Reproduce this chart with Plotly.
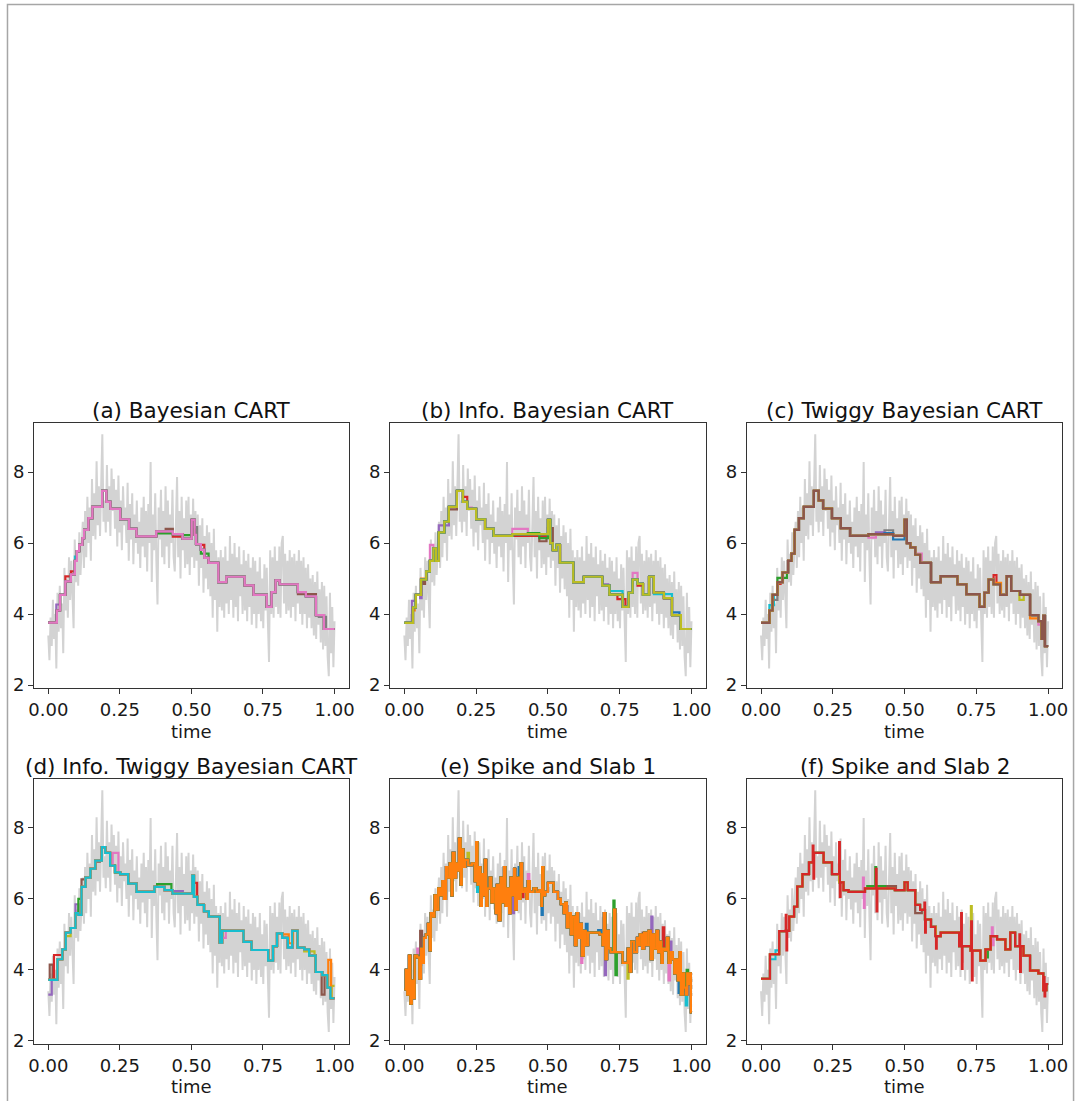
import numpy as np
import plotly.graph_objects as go

W, H = 1084, 1101

# ---------------- data ----------------
# noisy observations (light gray), same in every panel
signal = [
    3.4, 2.7, 3.9, 3.1, 4.4, 3.3, 4.0, 2.47, 4.6, 3.5,
    4.8, 3.6, 4.3, 2.9, 5.3, 4.1, 5.0, 3.9, 5.6, 4.4,
    5.5, 4.6, 3.6, 6.1, 4.9, 5.7, 4.8, 6.3, 5.1, 5.9,
    6.6, 5.3, 6.9, 5.6, 7.3, 6.0, 7.0, 5.5, 7.8, 6.2,
    7.4, 6.1, 8.3, 6.5, 7.6, 6.2, 7.9, 9.06, 6.6, 7.2,
    6.3, 8.2, 6.6, 7.6, 6.2, 8.1, 6.9, 7.8, 6.4, 7.5,
    5.9, 7.9, 6.3, 7.2, 5.8, 7.6, 6.5, 7.0, 6.0, 7.7,
    5.5, 7.1, 6.1, 7.4, 5.4, 6.8, 6.0, 7.2, 5.7, 6.6,
    5.3, 7.0, 5.9, 7.3, 5.6, 6.9, 5.2, 7.1, 6.0, 8.28,
    4.9, 6.8, 5.8, 7.4, 5.5, 4.27, 7.0, 6.1, 7.5, 5.6,
    6.9, 5.4, 7.6, 5.9, 7.2, 5.3, 6.8, 6.0, 7.5, 5.6,
    5.2, 7.0, 7.86, 5.6, 6.9, 5.0, 7.3, 5.8, 6.7, 5.3,
    7.2, 5.4, 7.3, 5.1, 6.8, 5.6, 7.25, 5.3, 6.9, 5.5,
    6.8, 4.8, 6.5, 5.3, 6.7, 4.6, 6.2, 5.0, 6.5, 4.7,
    6.3, 4.5, 6.0, 3.9, 6.4, 4.4, 5.8, 3.5, 5.6, 4.2,
    5.8, 4.1, 5.6, 3.9, 5.9, 4.3, 5.5, 4.0, 6.2, 4.4,
    5.7, 3.9, 6.0, 4.2, 5.6, 3.8, 5.9, 4.5, 5.4, 4.0,
    5.8, 4.1, 5.5, 3.8, 5.7, 4.2, 5.3, 3.7, 5.6, 4.0,
    5.5, 3.6, 5.2, 4.0, 5.6, 3.8, 5.0, 3.6, 5.4, 4.1,
    5.3, 3.8, 2.65, 5.8, 4.0, 5.6, 3.9, 5.9, 4.2, 5.5,
    4.0, 5.9, 3.9, 6.0, 6.2, 4.3, 5.7, 4.0, 5.5, 4.1,
    5.8, 3.9, 5.6, 4.2, 5.7, 3.8, 5.5, 4.3, 5.8, 4.0,
    5.5, 3.7, 5.6, 4.0, 5.3, 3.6, 5.4, 3.9, 5.0, 3.6,
    5.1, 3.4, 4.9, 3.3, 5.2, 3.7, 4.7, 3.2, 4.9, 3.0,
    4.8, 3.1, 4.5, 2.8, 2.25, 4.6, 2.9, 4.2, 2.5, 3.8,
]
time = np.linspace(0.0, 1.0, len(signal))

titles = ["(a) Bayesian CART", "(b) Info. Bayesian CART", "(c) Twiggy Bayesian CART",
          "(d) Info. Twiggy Bayesian CART", "(e) Spike and Slab 1", "(f) Spike and Slab 2"]
x_ticks = [0, 0.25, 0.5, 0.75, 1.0]
x_tick_labels = ["0.00", "0.25", "0.50", "0.75", "1.00"]
y_ticks = [2, 4, 6, 8]
y_tick_labels = ["2", "4", "6", "8"]
x_label = "time"

# step fits: (segment start, level); every fit ends at t = 1
steps_a = [(0, 3.76), (0.030, 4.1), (0.041, 4.54), (0.0595, 4.92), (0.079, 5.12), (0.093, 5.5),
           (0.100, 5.77), (0.108, 5.95), (0.119, 6.14), (0.125, 6.37), (0.140, 6.7), (0.154, 7.02),
           (0.188, 7.47), (0.203, 7.16), (0.217, 6.96), (0.251, 6.67), (0.282, 6.4), (0.308, 6.19),
           (0.377, 6.33), (0.435, 6.25), (0.469, 6.12), (0.501, 6.65), (0.511, 6.23), (0.516, 5.97),
           (0.533, 5.81), (0.545, 5.58), (0.560, 5.44), (0.594, 4.9), (0.622, 5.05), (0.686, 4.81),
           (0.717, 4.54), (0.763, 4.2), (0.780, 4.62), (0.794, 4.95), (0.808, 4.84), (0.872, 4.62),
           (0.900, 4.5), (0.935, 3.97), (0.963, 3.58)]
steps_b = [(0, 3.75), (0.030, 4.19), (0.040, 4.54), (0.058, 4.97), (0.076, 5.2), (0.089, 5.5),
           (0.101, 5.85), (0.110, 5.5), (0.120, 6.3), (0.139, 6.6), (0.155, 7.02), (0.183, 7.47),
           (0.204, 7.16), (0.219, 6.96), (0.25, 6.67), (0.281, 6.4), (0.311, 6.2), (0.376, 6.25),
           (0.5, 6.65), (0.508, 6.0), (0.517, 5.8), (0.53, 5.95), (0.542, 5.45), (0.588, 4.9),
           (0.625, 5.05), (0.689, 4.8), (0.714, 4.55), (0.76, 4.2), (0.781, 4.6), (0.795, 4.97),
           (0.812, 4.85), (0.831, 4.55), (0.852, 5.05), (0.869, 4.6), (0.904, 4.45), (0.932, 3.97),
           (0.963, 3.58)]
steps_c = [(0, 3.75), (0.029, 4.1), (0.040, 4.54), (0.057, 4.9), (0.075, 5.17), (0.094, 5.5),
           (0.106, 5.7), (0.117, 6.37), (0.132, 6.7), (0.149, 7.02), (0.184, 7.47), (0.201, 7.2),
           (0.216, 6.97), (0.247, 6.7), (0.278, 6.42), (0.310, 6.2), (0.374, 6.25), (0.46, 6.2),
           (0.5, 6.65), (0.508, 6.0), (0.52, 5.88), (0.537, 5.67), (0.554, 5.44), (0.592, 4.9),
           (0.626, 5.07), (0.684, 4.84), (0.715, 4.56), (0.761, 4.2), (0.778, 4.6), (0.793, 4.97),
           (0.81, 4.84), (0.833, 4.54), (0.856, 5.07), (0.871, 4.65), (0.902, 4.54), (0.937, 3.97),
           (0.966, 3.8), (0.977, 3.3), (0.983, 3.95), (0.989, 3.1)]
steps_d = [(0, 3.72), (0.032, 4.3), (0.049, 4.58), (0.061, 5.05), (0.078, 5.18), (0.095, 5.6),
           (0.105, 5.55), (0.116, 6.34), (0.13, 6.6), (0.147, 6.85), (0.164, 7.08), (0.187, 7.46),
           (0.199, 7.3), (0.216, 6.94), (0.233, 6.75), (0.251, 6.7), (0.279, 6.43), (0.308, 6.2),
           (0.371, 6.34), (0.406, 6.25), (0.434, 6.15), (0.503, 6.66), (0.509, 6.06), (0.521, 5.83),
           (0.544, 5.65), (0.561, 5.5), (0.599, 4.77), (0.607, 5.1), (0.682, 4.79), (0.71, 4.56),
           (0.768, 4.26), (0.785, 4.67), (0.799, 5.03), (0.817, 4.9), (0.837, 4.63), (0.852, 5.1),
           (0.871, 4.63), (0.894, 4.58), (0.911, 4.4), (0.934, 3.94), (0.957, 3.85), (0.975, 3.5),
           (0.986, 3.2)]
steps_e = [(0.000, 3.45), (0.005, 4.0), (0.010, 3.3), (0.016, 4.4), (0.021, 3.05), (0.026, 3.7),
           (0.031, 3.2), (0.036, 4.4), (0.045, 4.35), (0.052, 3.75), (0.058, 4.6), (0.064, 4.2),
           (0.068, 4.9), (0.075, 5.0), (0.082, 5.3), (0.088, 4.55), (0.092, 5.6), (0.100, 5.5),
           (0.105, 6.1), (0.110, 5.7), (0.118, 6.3), (0.125, 6.1), (0.132, 6.5), (0.138, 6.0),
           (0.145, 6.9), (0.150, 6.6), (0.158, 7.0), (0.164, 6.1), (0.168, 7.3), (0.175, 6.6),
           (0.180, 7.0), (0.185, 6.8), (0.190, 7.7), (0.196, 6.4), (0.200, 7.4), (0.206, 6.9),
           (0.212, 7.1), (0.222, 6.95), (0.235, 7.0), (0.245, 6.5), (0.250, 7.6), (0.255, 6.4),
           (0.260, 6.9), (0.265, 5.8), (0.270, 6.7), (0.276, 6.1), (0.280, 7.1), (0.285, 5.8),
           (0.290, 6.3), (0.297, 6.6), (0.303, 5.9), (0.310, 6.3), (0.318, 5.6), (0.322, 6.4),
           (0.328, 5.4), (0.335, 6.6), (0.340, 5.9), (0.347, 6.9), (0.352, 5.8), (0.358, 6.3),
           (0.365, 5.6), (0.370, 6.6), (0.376, 6.1), (0.382, 6.85), (0.386, 5.7), (0.392, 6.6),
           (0.398, 6.0), (0.405, 7.0), (0.410, 6.2), (0.418, 6.3), (0.425, 6.0), (0.430, 6.5),
           (0.437, 6.2), (0.450, 6.3), (0.460, 6.2), (0.470, 6.25), (0.477, 5.8), (0.480, 6.9),
           (0.485, 6.1), (0.490, 6.2), (0.500, 6.45), (0.520, 6.2), (0.535, 6.0), (0.545, 5.85),
           (0.555, 5.6), (0.560, 5.9), (0.566, 5.2), (0.572, 5.6), (0.580, 5.0), (0.586, 5.5),
           (0.594, 4.7), (0.600, 5.6), (0.605, 4.9), (0.612, 5.3), (0.618, 4.4), (0.625, 5.1),
           (0.632, 4.7), (0.640, 5.05), (0.680, 5.0), (0.690, 4.7), (0.695, 5.6), (0.700, 4.3),
           (0.706, 5.1), (0.712, 4.6), (0.718, 4.5), (0.730, 5.7), (0.735, 4.5), (0.760, 4.2),
           (0.778, 4.6), (0.784, 3.95), (0.790, 4.8), (0.800, 4.5), (0.810, 4.9), (0.815, 4.7),
           (0.820, 5.0), (0.828, 4.6), (0.835, 5.05), (0.842, 4.7), (0.850, 5.1), (0.858, 4.3),
           (0.865, 5.0), (0.870, 4.6), (0.878, 5.1), (0.884, 4.5), (0.890, 4.8), (0.895, 4.2),
           (0.900, 4.6), (0.908, 4.55), (0.914, 4.9), (0.920, 4.2), (0.928, 4.5), (0.935, 4.3),
           (0.940, 3.9), (0.946, 4.3), (0.952, 3.7), (0.958, 4.5), (0.963, 3.3), (0.970, 3.9),
           (0.975, 3.5), (0.980, 3.3), (0.985, 3.9), (0.990, 3.6), (0.994, 3.9), (0.998, 2.8)]
steps_f = [(0, 3.75), (0.031, 4.44), (0.063, 5.09), (0.086, 5.1), (0.098, 5.5), (0.115, 5.78),
           (0.126, 6.35), (0.144, 6.7), (0.167, 7.03), (0.184, 7.3), (0.218, 7.03), (0.247, 6.7),
           (0.272, 6.47), (0.287, 6.25), (0.305, 6.2), (0.362, 6.3), (0.466, 6.25), (0.5, 6.47),
           (0.511, 6.25), (0.537, 5.83), (0.554, 5.69), (0.571, 5.42), (0.592, 5.21), (0.609, 4.95),
           (0.626, 5.05), (0.69, 4.67), (0.73, 4.54), (0.764, 4.26), (0.782, 4.58), (0.8, 4.95),
           (0.822, 4.86), (0.851, 4.58), (0.868, 5.05), (0.885, 4.67), (0.914, 4.4), (0.937, 3.98),
           (0.966, 3.9), (0.983, 3.43), (0.994, 3.6)]
# single-sample spikes of the last Spike-and-Slab 2 draw: (time, high, low)
spikes_f = [(0.086, 5.55, 4.55), (0.18, 7.5, 6.57), (0.272, 7.6, 6.06), (0.4, 6.85, 5.65),
            (0.569, 5.9, 5.05), (0.607, 4.95, 4.6), (0.697, 5.6, 4.03), (0.732, 5.37, 3.7),
            (0.9, 5.0, 3.94), (0.985, 3.8, 3.25)]

# other posterior draws differ from the last draw on a few segments: (colour, start, end, level)
alt_a = [("#9467bd", 0.028, 0.041, 4.27), ("#d62728", 0.0595, 0.079, 5.06), ("#d62728", 0.079, 0.093, 5.2),
         ("#17becf", 0.093, 0.100, 5.62), ("#2ca02c", 0.377, 0.435, 6.27), ("#8c564b", 0.41, 0.435, 6.4),
         ("#d62728", 0.435, 0.469, 6.18), ("#2ca02c", 0.469, 0.501, 6.22), ("#7f7f7f", 0.511, 0.52, 6.45),
         ("#2ca02c", 0.533, 0.56, 5.7), ("#d62728", 0.533, 0.545, 5.95), ("#8c564b", 0.872, 0.935, 4.56),
         ("#7f7f7f", 0.945, 0.97, 3.92)]
alt_b = [("#9467bd", 0.026, 0.04, 4.37), ("#9467bd", 0.055, 0.06, 4.45), ("#9467bd", 0.12, 0.155, 6.5),
         ("#9467bd", 0.689, 0.71, 4.84), ("#ff7f0e", 0.03, 0.036, 4.1), ("#ff7f0e", 0.058, 0.078, 5.0),
         ("#8c564b", 0.066, 0.072, 4.85), ("#8c564b", 0.155, 0.183, 6.95), ("#8c564b", 0.47, 0.495, 6.05),
         ("#8c564b", 0.5, 0.517, 6.42), ("#e377c2", 0.089, 0.101, 5.95), ("#e377c2", 0.219, 0.235, 7.0),
         ("#e377c2", 0.376, 0.43, 6.4), ("#e377c2", 0.795, 0.812, 5.16), ("#d62728", 0.204, 0.219, 7.3),
         ("#d62728", 0.376, 0.5, 6.2), ("#d62728", 0.742, 0.77, 4.42), ("#d62728", 0.812, 0.83, 4.8),
         ("#2ca02c", 0.43, 0.47, 6.28), ("#2ca02c", 0.47, 0.5, 6.14), ("#17becf", 0.714, 0.76, 4.65),
         ("#17becf", 0.869, 0.932, 4.56), ("#1f77b4", 0.932, 0.958, 4.05)]
alt_c = [("#17becf", 0.029, 0.045, 4.25), ("#7f7f7f", 0.04, 0.057, 4.4), ("#7f7f7f", 0.43, 0.46, 6.36),
         ("#2ca02c", 0.057, 0.09, 5.02), ("#d62728", 0.057, 0.068, 4.85), ("#d62728", 0.81, 0.82, 5.1),
         ("#e377c2", 0.374, 0.40, 6.15), ("#e377c2", 0.537, 0.56, 5.7), ("#e377c2", 0.966, 0.976, 3.7),
         ("#9467bd", 0.40, 0.43, 6.3), ("#1f77b4", 0.43, 0.46, 6.28), ("#1f77b4", 0.46, 0.5, 6.1),
         ("#ff7f0e", 0.82, 0.836, 4.88), ("#ff7f0e", 0.937, 0.966, 3.88), ("#bcbd22", 0.9, 0.915, 4.4)]
alt_d = [("#9467bd", 0.0, 0.012, 3.3), ("#9467bd", 0.095, 0.105, 5.85), ("#9467bd", 0.434, 0.47, 6.22),
         ("#8c564b", 0.005, 0.015, 4.15), ("#8c564b", 0.116, 0.13, 6.55), ("#8c564b", 0.164, 0.18, 7.05),
         ("#8c564b", 0.955, 0.965, 3.3), ("#d62728", 0.02, 0.05, 4.42), ("#d62728", 0.503, 0.52, 6.45),
         ("#bcbd22", 0.061, 0.078, 4.95), ("#bcbd22", 0.894, 0.93, 4.52), ("#bcbd22", 0.99, 1.0, 3.55),
         ("#2ca02c", 0.105, 0.116, 6.0), ("#2ca02c", 0.38, 0.43, 6.42), ("#e377c2", 0.225, 0.245, 7.3),
         ("#e377c2", 0.607, 0.62, 4.9), ("#ff7f0e", 0.817, 0.84, 5.0), ("#ff7f0e", 0.84, 0.855, 4.75),
         ("#ff7f0e", 0.978, 0.988, 4.28)]
alt_e = [("#e377c2", 0.045, 0.05, 4.6), ("#e377c2", 0.325, 0.33, 5.55), ("#e377c2", 0.43, 0.435, 6.7),
         ("#e377c2", 0.616, 0.62, 4.2), ("#e377c2", 0.92, 0.925, 3.7), ("#8c564b", 0.055, 0.062, 5.1),
         ("#8c564b", 0.563, 0.568, 5.8), ("#8c564b", 0.83, 0.836, 5.05), ("#8c564b", 0.972, 0.978, 3.4),
         ("#bcbd22", 0.22, 0.225, 7.3), ("#bcbd22", 0.777, 0.781, 3.75), ("#17becf", 0.253, 0.257, 6.2),
         ("#17becf", 0.98, 0.985, 3.0), ("#9467bd", 0.378, 0.382, 5.6), ("#9467bd", 0.698, 0.702, 3.85),
         ("#9467bd", 0.86, 0.864, 5.5), ("#9467bd", 0.925, 0.93, 4.8), ("#d62728", 0.41, 0.415, 6.05),
         ("#d62728", 0.598, 0.603, 5.4), ("#d62728", 0.9, 0.905, 5.2), ("#d62728", 0.955, 0.96, 4.3),
         ("#1f77b4", 0.398, 0.402, 6.9), ("#1f77b4", 0.478, 0.482, 5.55), ("#1f77b4", 0.632, 0.638, 5.3),
         ("#1f77b4", 0.675, 0.685, 5.12), ("#1f77b4", 0.955, 0.962, 3.35), ("#2ca02c", 0.728, 0.732, 5.95),
         ("#2ca02c", 0.735, 0.74, 3.85), ("#2ca02c", 0.983, 0.988, 4.0)]
alt_f = [("#17becf", 0.031, 0.05, 4.3), ("#17becf", 0.05, 0.063, 4.55), ("#e377c2", 0.355, 0.358, 6.6),
         ("#e377c2", 0.358, 0.361, 5.75), ("#e377c2", 0.804, 0.807, 5.2), ("#e377c2", 0.807, 0.81, 4.7),
         ("#2ca02c", 0.37, 0.398, 6.36), ("#2ca02c", 0.398, 0.401, 6.9), ("#2ca02c", 0.401, 0.44, 6.36),
         ("#2ca02c", 0.785, 0.79, 4.35), ("#8c564b", 0.44, 0.47, 6.36), ("#8c564b", 0.537, 0.56, 5.6),
         ("#bcbd22", 0.731, 0.734, 5.8)]

top_colors = ["#e377c2", "#bcbd22", "#8c564b", "#17becf", "#ff7f0e", "#d62728"]
panel_steps = [steps_a, steps_b, steps_c, steps_d, steps_e, steps_f]
panel_alts = [alt_a, alt_b, alt_c, alt_d, alt_e, alt_f]


# ---------------- helpers ----------------
def apply_segment(steps, t0, t1, v):
    def level_at(t):
        lv = steps[0][1]
        for s, l in steps:
            if s <= t:
                lv = l
        return lv
    lv1 = level_at(t1)
    out = [(s, l) for s, l in steps if s < t0]
    out.append((t0, v))
    if t1 < 1.0:
        out.append((t1, lv1))
    out += [(s, l) for s, l in steps if s > t1]
    return out


def step_xy(steps):
    xs = [s for s, _ in steps] + [1.0]
    ys = [l for _, l in steps] + [steps[-1][1]]
    return xs, ys


cols = [(28.3, 346.7), (388.3, 707.7), (749.0, 1068.3)]
rows = [(425.7, 692.7), (784.0, 1050.7)]

FONT = "DejaVu Sans"
fig = go.Figure()
annotations = []
layout = {}

for k in range(6):
    r, c = divmod(k, 3)
    suf = "" if k == 0 else str(k + 1)
    xa, ya = "x" + suf, "y" + suf

    fig.add_trace(go.Scatter(x=time, y=signal, mode="lines", xaxis=xa, yaxis=ya,
                             line=dict(color="#d3d3d3", width=2), hoverinfo="skip"))

    base = panel_steps[k]
    top = base
    if k == 5:
        for t, hi, lo in spikes_f:
            top = apply_segment(top, t, t + 0.0025, hi)
            top = apply_segment(top, t + 0.0025, t + 0.005, lo)

    colours = []
    for col, *_ in panel_alts[k]:
        if col not in colours:
            colours.append(col)
    for col in colours:
        var = base
        for cc, t0, t1, v in panel_alts[k]:
            if cc == col:
                var = apply_segment(var, t0, t1, v)
        xs, ys = step_xy(var)
        fig.add_trace(go.Scatter(x=xs, y=ys, mode="lines", line_shape="hv", xaxis=xa, yaxis=ya,
                                 line=dict(color=col, width=2.2)))
    xs, ys = step_xy(top)
    fig.add_trace(go.Scatter(x=xs, y=ys, mode="lines", line_shape="hv", xaxis=xa, yaxis=ya,
                             line=dict(color=top_colors[k], width=2.2)))

    x0, x1 = cols[c]
    y0, y1 = rows[r]
    axis_common = dict(showline=True, mirror=True, linecolor="#333333", linewidth=1,
                       ticks="outside", ticklen=5, tickwidth=1, tickcolor="#333333",
                       showgrid=False, zeroline=False,
                       tickfont=dict(family=FONT, size=18, color="#1a1a1a"))
    layout["xaxis" + suf] = dict(domain=[x0 / W, x1 / W], anchor=ya, range=[-0.05, 1.05],
                                 tickvals=x_ticks, ticktext=x_tick_labels, **axis_common)
    layout["yaxis" + suf] = dict(domain=[1 - y1 / H, 1 - y0 / H], anchor=xa, range=[1.91, 9.38],
                                 tickvals=y_ticks, ticktext=y_tick_labels, **axis_common)

    annotations.append(dict(text=titles[k], xref="paper", yref="paper",
                            x=(x0 + x1) / 2 / W, y=1 - (y0 - 13) / H,
                            xanchor="center", yanchor="middle", showarrow=False,
                            font=dict(family=FONT, size=21.5, color="#111111")))
    annotations.append(dict(text=x_label, xref="paper", yref="paper",
                            x=(x0 + x1) / 2 / W, y=1 - (y1 + 43) / H,
                            xanchor="center", yanchor="middle", showarrow=False,
                            font=dict(family=FONT, size=18, color="#1a1a1a")))

fig.update_layout(
    width=W, height=H, margin=dict(l=0, r=0, t=0, b=0),
    paper_bgcolor="white", plot_bgcolor="white", showlegend=False,
    annotations=annotations,
    shapes=[dict(type="rect", xref="paper", yref="paper",
                 x0=1.5 / W, x1=1079.5 / W, y0=-0.02, y1=1 - 4.5 / H,
                 line=dict(color="#a6a6a6", width=1.5), fillcolor="rgba(0,0,0,0)")],
    **layout,
)

fig.write_html("out.html")
